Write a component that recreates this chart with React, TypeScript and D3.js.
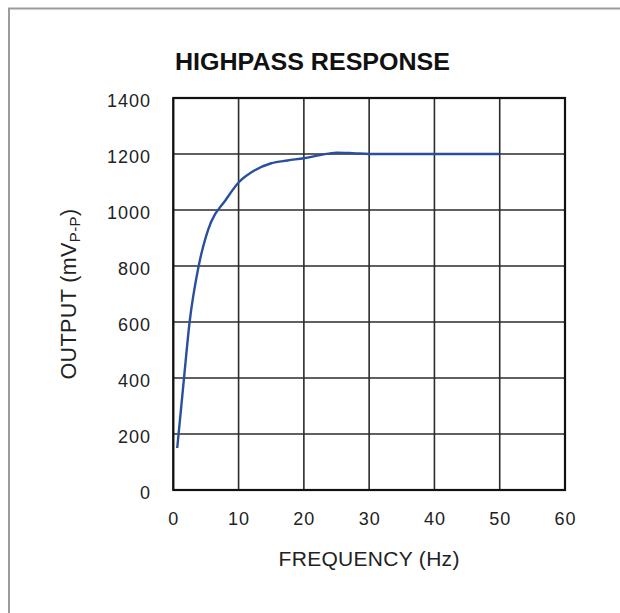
import React from "react";
import * as d3 from "d3";

const titleText = "HIGHPASS RESPONSE";
const xLabel = "FREQUENCY (Hz)";
const xTicks = [0, 10, 20, 30, 40, 50, 60];
const yTicks = [0, 200, 400, 600, 800, 1000, 1200, 1400];
const freqHz = [0.6, 1.6, 2.5, 3.8, 5.0, 5.8, 8.0, 10, 12.5, 15, 17.5, 20, 22.5, 25, 27.5, 30, 40, 50];
const outputMv = [150, 390, 600, 790, 905, 958, 1035, 1098, 1142, 1167, 1177, 1185, 1196, 1205, 1203, 1200, 1200, 1200];

const W = 620;
const H = 613;
const left = 173.3;
const right = 565;
const top = 98;
const bottom = 490;

export default function App() {
  const x = d3.scaleLinear().domain([0, 60]).range([left, right]);
  const y = d3.scaleLinear().domain([0, 1400]).range([bottom, top]);
  const pts: [number, number][] = freqHz.map((f, i) => [f, outputMv[i]]);
  const line = d3
    .line<[number, number]>()
    .x((d) => x(d[0]))
    .y((d) => y(d[1]))
    .curve(d3.curveMonotoneX);
  const font = "'Liberation Sans', Arial, Helvetica, sans-serif";
  return (
    <svg
      width={W}
      height={H}
      style={{ position: "absolute", left: 0, top: 0, background: "#fff" }}
      fontFamily={font}
    >
      <rect x={0} y={0} width={W} height={H} fill="#fff" />
      {/* outer frame */}
      <line x1={8} y1={8.5} x2={W} y2={8.5} stroke="#9c9c9c" strokeWidth={2} />
      <line x1={9} y1={8} x2={9} y2={H} stroke="#9c9c9c" strokeWidth={2} />
      {/* title */}
      <text x={175} y={69.5} fontSize={23} fontWeight="bold" fill="#111" textLength={275} lengthAdjust="spacingAndGlyphs">
        {titleText}
      </text>
      {/* grid */}
      {xTicks.map((t) => (
        <line key={"gx" + t} x1={x(t)} x2={x(t)} y1={top} y2={bottom} stroke="#2b2b2b" strokeWidth={1.6} />
      ))}
      {yTicks.map((t) => (
        <line key={"gy" + t} x1={left} x2={right} y1={y(t)} y2={y(t)} stroke="#2b2b2b" strokeWidth={1.6} />
      ))}
      <rect x={left} y={top} width={right - left} height={bottom - top} fill="none" stroke="#111" strokeWidth={2.2} />
      {/* curve */}
      <path d={line(pts) || ""} fill="none" stroke="#2a4f9e" strokeWidth={2.4} strokeLinejoin="round" />
      {/* y tick labels */}
      {yTicks.map((t) => (
        <text key={"ly" + t} x={151} y={y(t) + 8.5} fontSize={18} fill="#222" textAnchor="end" letterSpacing={1}>
          {t}
        </text>
      ))}
      {/* x tick labels */}
      {xTicks.map((t) => (
        <text key={"lx" + t} x={x(t) + 0.5} y={525} fontSize={18} fill="#222" textAnchor="middle" letterSpacing={1}>
          {t}
        </text>
      ))}
      {/* x label */}
      <text x={(left + right) / 2} y={566} fontSize={21} fill="#222" textAnchor="middle" letterSpacing={0.3}>
        {xLabel}
      </text>
      {/* y label */}
      <text
        transform={`translate(76, ${(top + bottom) / 2}) rotate(-90)`}
        fontSize={21.5}
        fill="#222"
        textAnchor="middle"
        letterSpacing={0.4}
      >
        <tspan>OUTPUT (mV</tspan>
        <tspan fontSize={15} dy={4}>P-P</tspan>
        <tspan dy={-4}>)</tspan>
      </text>
    </svg>
  );
}
